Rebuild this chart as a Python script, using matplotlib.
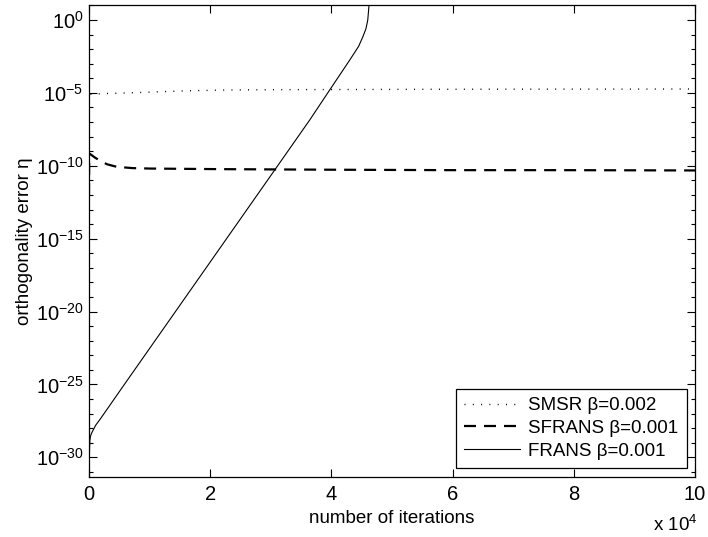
import numpy as np
import matplotlib
matplotlib.use("Agg")
import matplotlib.pyplot as plt
from matplotlib.ticker import FixedLocator, NullFormatter

plt.rcParams['font.family'] = ['Liberation Sans', 'DejaVu Sans']
plt.rcParams['mathtext.fontset'] = 'custom'
plt.rcParams['mathtext.rm'] = 'Liberation Sans'
plt.rcParams['mathtext.it'] = 'Liberation Sans:italic'
plt.rcParams['lines.scale_dashes'] = False

# x in units of 10^4 iterations; y stored as log10 of orthogonality error
smsr_x = [0.0, 0.003, 0.1, 0.3, 0.72, 1.5, 2.27, 3.0, 4.0, 5.0, 6.0, 7.8, 9.0, 10.0]
smsr_log = [-9.0, -5.1, -5.08, -5.04, -4.99, -4.87, -4.80, -4.78, -4.77, -4.76, -4.75, -4.74, -4.74, -4.73]

sfrans_x = [0.0, 0.003, 0.096, 0.2, 0.3, 0.457, 0.72, 1.0, 2.15, 4.0, 6.0, 7.8, 10.0]
sfrans_log = [-12.0, -9.15, -9.43, -9.7, -9.9, -10.07, -10.16, -10.19, -10.23, -10.27, -10.3, -10.3, -10.32]

frans_x = [0.006, 0.009, 0.014, 0.025, 0.045, 0.07, 0.11, 0.173, 0.619, 1.825, 2.948,
           3.642, 3.972, 4.302, 4.45, 4.517, 4.57, 4.6, 4.621, 4.635]
frans_log = [-30.0, -29.4, -28.85, -28.55, -28.32, -28.12, -27.8, -27.45, -24.79,
             -17.64, -10.98, -6.86, -4.8, -2.75, -1.8, -1.17, -0.6, 0.0, 1.03, 3.0]

labels = ['SMSR \u03b2=0.002', 'SFRANS \u03b2=0.001', 'FRANS \u03b2=0.001']

FS = 13.5
TFS = 14.5

fig = plt.figure(figsize=(7.08, 5.37), dpi=100)
ax = fig.add_axes([89/708, 1-477/537, (695-89)/708, (477-5)/537])

px = 0.72  # one pixel in points
ax.plot(smsr_x, 10.0**np.array(smsr_log), color='black', lw=1.0,
        dashes=(1*px, 7.3*px), label=labels[0])
ax.plot(sfrans_x, 10.0**np.array(sfrans_log), color='black', lw=1.6,
        dashes=(12*px, 8*px), label=labels[1])
ax.plot(frans_x, 10.0**np.array(frans_log), color='black', lw=0.8,
        label=labels[2])

ax.set_yscale('log')
ax.set_xlim(0, 10)
ax.set_ylim(10**-31.35, 10**1.03)
ax.set_xticks([0, 2, 4, 6, 8, 10])
ax.set_xticklabels(['0', '2', '4', '6', '8', '10'])
ax.yaxis.set_major_locator(FixedLocator([10.0**k for k in range(-30, 1, 5)]))
ax.set_yticklabels([r'$10^{%d}$' % k for k in range(-30, 1, 5)])
ax.yaxis.set_minor_locator(FixedLocator([10.0**k for k in range(-31, 2) if k % 5 != 0]))
ax.yaxis.set_minor_formatter(NullFormatter())
ax.tick_params(which='both', direction='in', top=True, right=True, labelsize=TFS, width=0.8)
ax.tick_params(which='major', length=6)
ax.tick_params(which='minor', length=3)
ax.tick_params(axis='y', which='major', pad=4)
ax.tick_params(axis='x', which='major', pad=6)
for s in ax.spines.values():
    s.set_linewidth(0.9)

ax.set_xlabel('number of iterations', fontsize=FS, labelpad=4)
ax.set_ylabel('orthogonality error \u03b7', fontsize=FS, labelpad=2)
fig.text(653/708, 1-525/537, r'x 10$^{4}$', fontsize=FS, va='center', ha='left')

leg = ax.legend(loc='lower right', bbox_to_anchor=(1-8/606, 9/472), fontsize=FS,
                handlelength=3.0, handletextpad=0.43, labelspacing=0.3,
                borderpad=0.45, borderaxespad=0, fancybox=False, framealpha=1,
                edgecolor='black')
leg.get_frame().set_linewidth(0.9)

fig.savefig('out.png', dpi=100)
